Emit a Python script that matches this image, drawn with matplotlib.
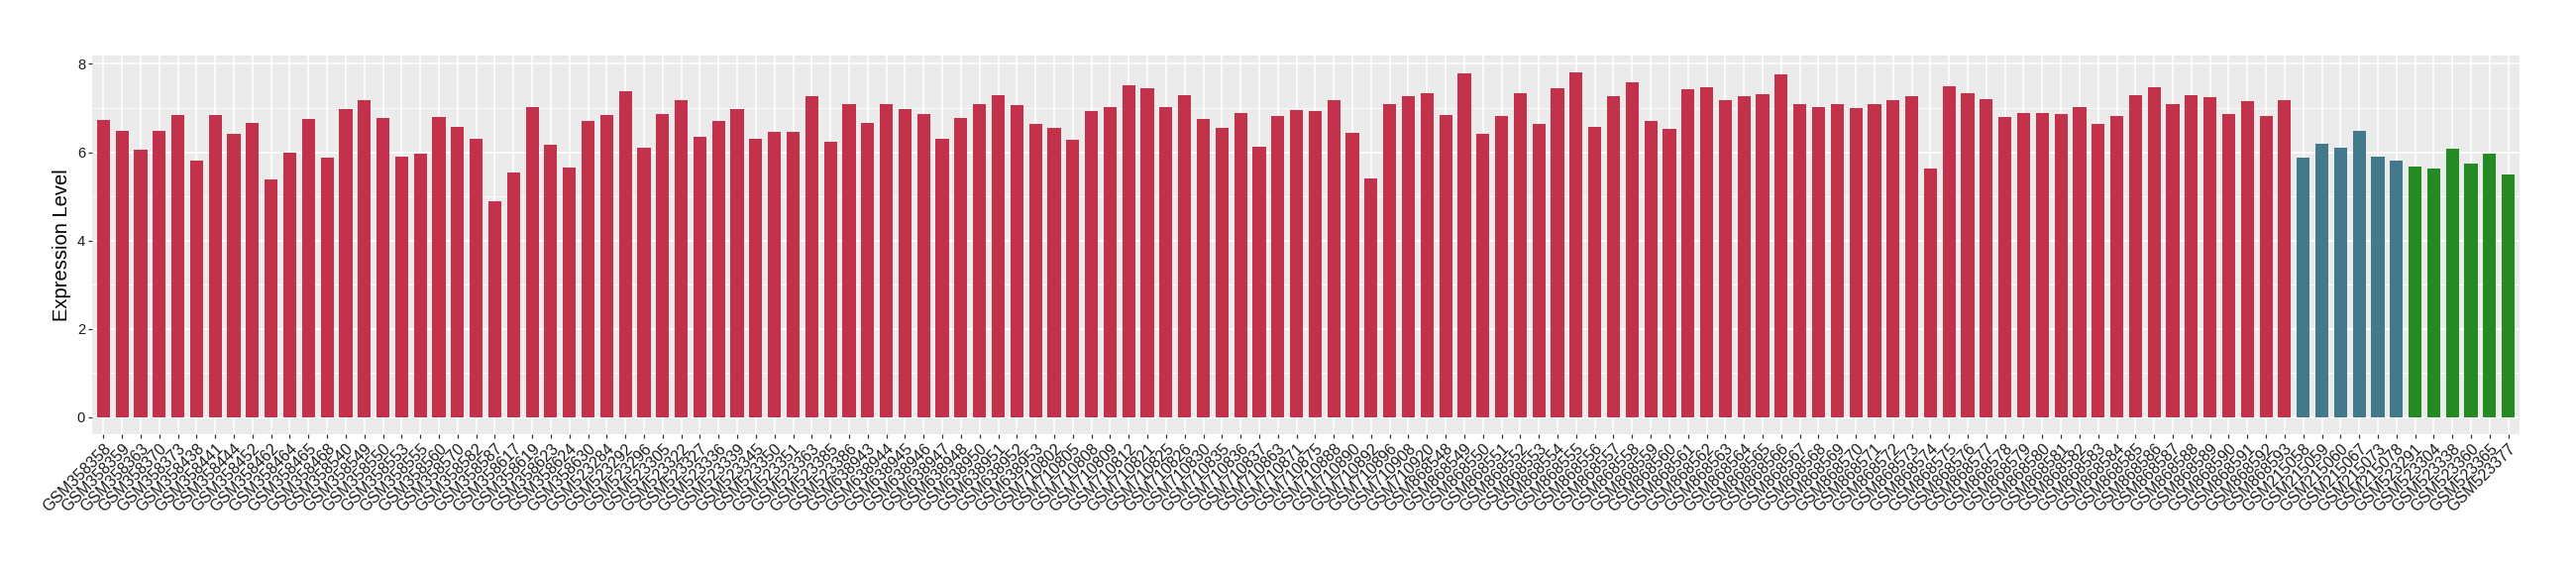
import matplotlib
matplotlib.use("Agg")
import matplotlib.pyplot as plt

plt.rcParams['font.family'] = ['Liberation Sans', 'DejaVu Sans']

group_a_samples = [
    "GSM358358", "GSM358359", "GSM358363", "GSM358370", "GSM358373", "GSM358438",
    "GSM358441", "GSM358444", "GSM358452", "GSM358462", "GSM358464", "GSM358465",
    "GSM358468", "GSM358540", "GSM358549", "GSM358550", "GSM358553", "GSM358555",
    "GSM358560", "GSM358570", "GSM358582", "GSM358587", "GSM358617", "GSM358619",
    "GSM358623", "GSM358624", "GSM358630", "GSM523284", "GSM523292", "GSM523296",
    "GSM523305", "GSM523322", "GSM523327", "GSM523336", "GSM523339", "GSM523345",
    "GSM523350", "GSM523351", "GSM523363", "GSM523385", "GSM523386", "GSM638943",
    "GSM638944", "GSM638945", "GSM638946", "GSM638947", "GSM638948", "GSM638950",
    "GSM638951", "GSM638952", "GSM638953", "GSM710802", "GSM710805", "GSM710808",
    "GSM710809", "GSM710812", "GSM710821", "GSM710825", "GSM710826", "GSM710830",
    "GSM710835", "GSM710836", "GSM710837", "GSM710863", "GSM710871", "GSM710875",
    "GSM710888", "GSM710890", "GSM710892", "GSM710896", "GSM710908", "GSM710920",
    "GSM868548", "GSM868549", "GSM868550", "GSM868551", "GSM868552", "GSM868553",
    "GSM868554", "GSM868555", "GSM868556", "GSM868557", "GSM868558", "GSM868559",
    "GSM868560", "GSM868561", "GSM868562", "GSM868563", "GSM868564", "GSM868565",
    "GSM868566", "GSM868567", "GSM868568", "GSM868569", "GSM868570", "GSM868571",
    "GSM868572", "GSM868573", "GSM868574", "GSM868575", "GSM868576", "GSM868577",
    "GSM868578", "GSM868579", "GSM868580", "GSM868581", "GSM868582", "GSM868583",
    "GSM868584", "GSM868585", "GSM868586", "GSM868587", "GSM868588", "GSM868589",
    "GSM868590", "GSM868591", "GSM868592", "GSM868593",
]
group_a_values = [
    6.73, 6.49, 6.06, 6.49, 6.85, 5.80, 6.85, 6.41, 6.67, 5.39, 5.99, 6.76,
    5.87, 6.97, 7.17, 6.78, 5.89, 5.96, 6.80, 6.58, 6.30, 4.88, 5.54, 7.02,
    6.17, 5.65, 6.71, 6.85, 7.39, 6.10, 6.87, 7.19, 6.34, 6.71, 6.97, 6.30,
    6.47, 6.45, 7.26, 6.23, 7.09, 6.67, 7.09, 6.97, 6.87, 6.30, 6.78, 7.09,
    7.30, 7.06, 6.63, 6.54, 6.28, 6.93, 7.02, 7.52, 7.45, 7.02, 7.30, 6.76,
    6.56, 6.88, 6.13, 6.82, 6.95, 6.93, 7.19, 6.43, 5.41, 7.10, 7.26, 7.34,
    6.85, 7.78, 6.41, 6.82, 7.34, 6.64, 7.45, 7.80, 6.58, 7.26, 7.58, 6.71,
    6.52, 7.43, 7.48, 7.19, 7.26, 7.32, 7.76, 7.09, 7.02, 7.09, 7.00, 7.10,
    7.19, 7.26, 5.63, 7.50, 7.34, 7.21, 6.80, 6.88, 6.88, 6.87, 7.02, 6.64,
    6.82, 7.30, 7.48, 7.09, 7.30, 7.24, 6.87, 7.15, 6.82, 7.19,
]
group_b_samples = ["GSM215058", "GSM215059", "GSM215060", "GSM215067", "GSM215073", "GSM215078"]
group_b_values = [5.87, 6.19, 6.10, 6.49, 5.91, 5.82]
group_c_samples = ["GSM523291", "GSM523304", "GSM523338", "GSM523360", "GSM523365", "GSM523377"]
group_c_values = [5.67, 5.63, 6.08, 5.75, 5.97, 5.50]

y_label = "Expression Level"
y_ticks = [0, 2, 4, 6, 8]

color_a = "#C3314A"
color_b = "#437A8B"
color_c = "#238A24"

samples = group_a_samples + group_b_samples + group_c_samples
values = group_a_values + group_b_values + group_c_values
colors = [color_a] * len(group_a_samples) + [color_b] * len(group_b_samples) + [color_c] * len(group_c_samples)

fig = plt.figure(figsize=(26, 5.8), dpi=100)
ax = fig.add_axes([93 / 2600, 1 - 438 / 580, (2543 - 93) / 2600, (438 - 56) / 580])
ax.set_facecolor("#EBEBEB")

x = list(range(1, len(samples) + 1))
ax.bar(x, values, width=0.7, color=colors, zorder=3)

ax.set_xlim(0.4, len(samples) + 0.6)
ymax = max(values)
ax.set_ylim(-0.05 * ymax, ymax * 1.05)

ax.set_xticks(x)
ax.set_xticklabels(samples, rotation=45, ha="right", va="top", rotation_mode="anchor",
                   fontsize=11.5, color="#1A1A1A")
ax.set_yticks(y_ticks)
ax.set_yticklabels([str(t) for t in y_ticks], fontsize=10.5, color="#1A1A1A")
ax.set_yticks([1, 3, 5, 7], minor=True)

ax.grid(which="major", color="white", linewidth=1.2, zorder=0)
ax.grid(which="minor", axis="y", color="white", linewidth=0.6, zorder=0)
ax.set_axisbelow(True)

ax.tick_params(axis="both", which="major", length=3, width=0.9, color="#333333", pad=2)
ax.tick_params(axis="y", which="minor", length=0)
for s in ax.spines.values():
    s.set_visible(False)

ax.set_ylabel(y_label, fontsize=14.5, labelpad=4)

fig.savefig("out.png", dpi=100, facecolor="white")
